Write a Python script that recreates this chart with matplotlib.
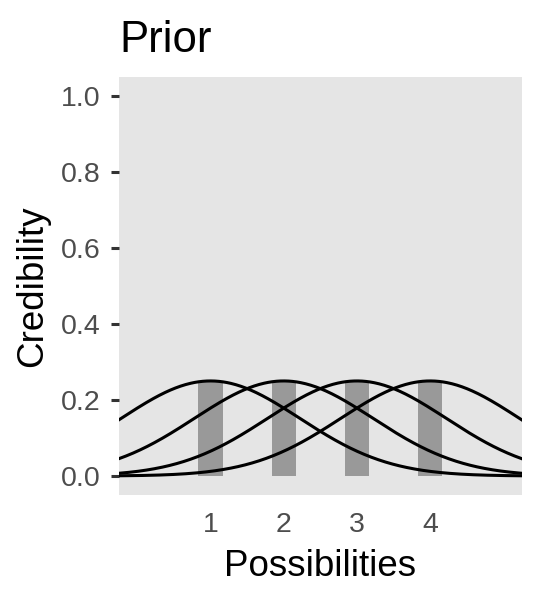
import numpy as np
import matplotlib
matplotlib.use("Agg")
import matplotlib.pyplot as plt

# data
possibilities = [1, 2, 3, 4]
credibility = [0.25, 0.25, 0.25, 0.25]
curve_centers = [1, 2, 3, 4]
curve_peak = 0.25
curve_sd = 1.22
x_ticks = [1, 2, 3, 4]
y_ticks = [0.0, 0.2, 0.4, 0.6, 0.8, 1.0]

plt.rcParams["font.family"] = ["Liberation Sans", "DejaVu Sans"]

fig = plt.figure(figsize=(5.4, 6.0), dpi=100)
ax = fig.add_axes([0.2204, 0.175, 0.966 - 0.2204, 0.872 - 0.175])
ax.set_facecolor("#E5E5E5")

xmin, xmax = -0.25, 5.25
ax.bar(possibilities, credibility, width=0.33, color="#999999", zorder=2)

xs = np.linspace(xmin, xmax, 400)
for c in curve_centers:
    ys = curve_peak * np.exp(-0.5 * ((xs - c) / curve_sd) ** 2)
    ax.plot(xs, ys, color="black", lw=2.2, zorder=3)

ax.set_xlim(xmin, xmax)
ax.set_ylim(-0.05, 1.05)
ax.set_xticks(x_ticks)
ax.set_yticks(y_ticks)
ax.set_yticklabels([f"{v:.1f}" for v in y_ticks])
for s in ax.spines.values():
    s.set_visible(False)
ax.tick_params(axis="x", length=0, pad=12, labelsize=20.5, labelcolor="#4D4D4D")
ax.tick_params(axis="y", length=6, width=2.2, color="#333333", pad=7,
               labelsize=20.5, labelcolor="#4D4D4D")

ax.set_xlabel("Possibilities", fontsize=26.5, labelpad=8)
ax.set_ylabel("Credibility", fontsize=26.5, labelpad=8)
ax.set_title("Prior", fontsize=31.5, loc="left", pad=18)

fig.savefig("out.png", dpi=100)
